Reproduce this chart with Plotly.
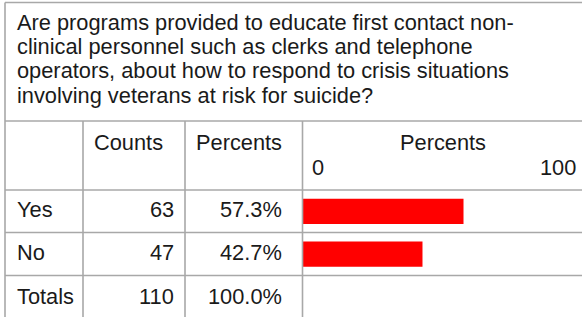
import plotly.graph_objects as go

# ---- data ----
question_lines = [
    "Are programs provided to educate first contact non-",
    "clinical personnel such as clerks and telephone",
    "operators, about how to respond to crisis situations",
    "involving veterans at risk for suicide?",
]
categories = ["Yes", "No"]
counts = [63, 47]
percents = [57.3, 42.7]
total_label = "Totals"
total_count = 110
total_percent = 100.0
column_headers = ["Counts", "Percents"]
bar_header = "Percents"
bar_ticks = [0, 100]

# ---- layout helpers (pixel geometry) ----
W, H = 582, 317
def px(x):
    return x / W
def py(y):
    return 1 - y / H

FONT = "Liberation Sans, Arial, sans-serif"
FS = 21.8
TXT = "#1a1a1a"
LINE = "#a8a8a8"
LW = 1.6

x_left, x_c1, x_c2, x_c3, x_right = 5, 83, 185, 302.5, W
y_top, y_q, y_r1, y_r2, y_r3, y_bot = 2.5, 121, 190, 232.5, 275.5, H

fig = go.Figure()

fig.add_trace(go.Bar(
    x=percents, y=categories, orientation="h",
    marker=dict(color="#ff0000", line=dict(width=0)),
    width=0.59, hoverinfo="skip", showlegend=False,
))

px_per_unit = 2.81
fig.update_layout(
    width=W, height=H,
    margin=dict(l=0, r=0, t=0, b=0),
    paper_bgcolor="white", plot_bgcolor="rgba(0,0,0,0)",
    xaxis=dict(domain=[px(x_c3), 1], range=[0, (W - x_c3) / px_per_unit],
               showgrid=False, zeroline=False, showticklabels=False,
               showline=False, ticks="", fixedrange=True),
    yaxis=dict(domain=[py(y_r3), py(y_r1)], range=[1.5, -0.5],
               type="category", categoryorder="array", categoryarray=categories,
               showgrid=False, zeroline=False, showticklabels=False,
               showline=False, ticks="", fixedrange=True),
    font=dict(family=FONT, size=FS, color=TXT),
)

shapes = []
def hline(y, x0=x_left, x1=x_right):
    shapes.append(dict(type="line", xref="paper", yref="paper",
                       x0=px(x0), x1=px(x1), y0=py(y), y1=py(y),
                       line=dict(color=LINE, width=LW)))
def vline(x, y0, y1=y_bot):
    shapes.append(dict(type="line", xref="paper", yref="paper",
                       x0=px(x), x1=px(x), y0=py(y0), y1=py(y1),
                       line=dict(color=LINE, width=LW)))

hline(y_top)
for yy in (y_q, y_r1, y_r2, y_r3):
    hline(yy)
vline(x_left, y_top)
for xx in (x_c1, x_c2, x_c3):
    vline(xx, y_q)
fig.update_layout(shapes=shapes)

ann = []
def text(t, x, y, xanchor="left"):
    ann.append(dict(text=t, x=px(x), y=py(y), xref="paper", yref="paper",
                    xanchor=xanchor, yanchor="middle", showarrow=False,
                    font=dict(family=FONT, size=FS, color=TXT)))

# question
q_y0, q_dy = 22.5, 24.2
for i, line in enumerate(question_lines):
    text(line, 14.5, q_y0 + i * q_dy)

# headers
hdr_y = 142
text(column_headers[0], x_c1 + 9, hdr_y)
text(column_headers[1], x_c2 + 9, hdr_y)
text(bar_header, 443, hdr_y, "center")
tick_y = 167.5
text(str(bar_ticks[0]), 309.5, tick_y, "left")
text(str(bar_ticks[1]), 578, tick_y, "right")

# rows
row_y = [209.5, 252.5]
for cat, c, p, yy in zip(categories, counts, percents, row_y):
    text(cat, 14.5, yy)
    text(str(c), 176, yy, "right")
    text(f"{p:.1f}%", 284, yy, "right")
tot_y = 296
text(total_label, 14.5, tot_y)
text(str(total_count), 176, tot_y, "right")
text(f"{total_percent:.1f}%", 284, tot_y, "right")

fig.update_layout(annotations=ann)
fig.write_html("out.html", config={"displayModeBar": False},
               post_script="document.body.style.margin='0';")
